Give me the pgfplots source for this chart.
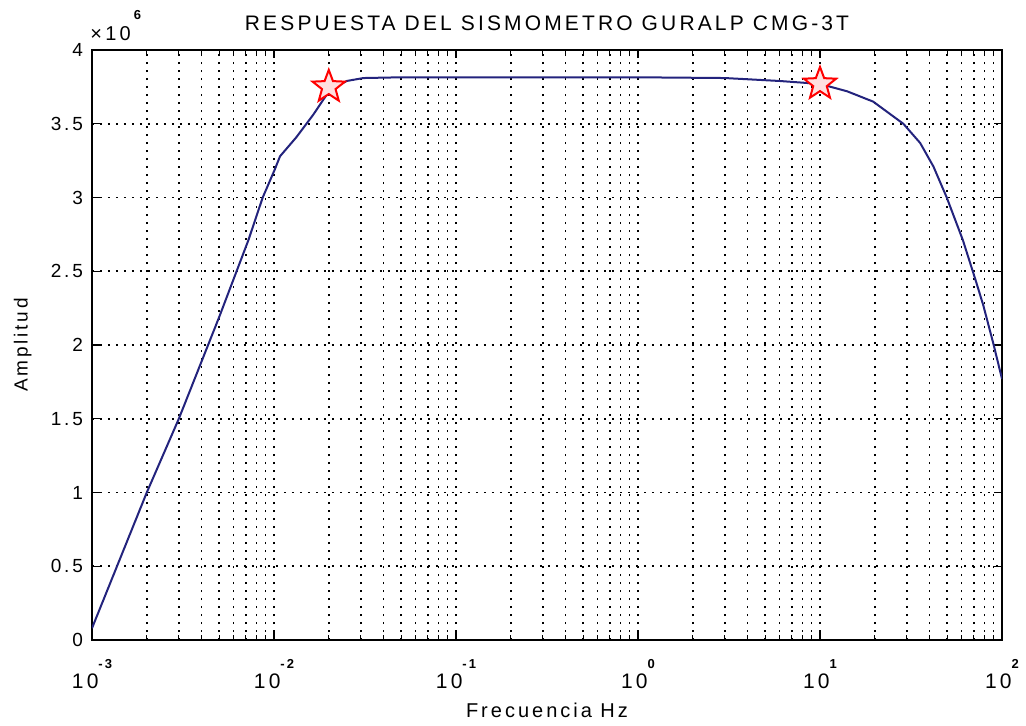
\documentclass[border=0pt]{standalone}
\usepackage{fontspec}
\setmainfont{Liberation Sans}
\newfontfamily\mfont[LetterSpace=15]{Liberation Sans}
\usepackage{pgfplots}
\pgfplotsset{compat=1.18}

% estrella de cinco puntas (como el marcador 'p' de MATLAB)
\pgfdeclareplotmark{pentagram}{%
  \pgfpathmoveto{\pgfpointpolar{90}{\pgfplotmarksize}}%
  \pgfpathlineto{\pgfpointpolar{126}{0.42\pgfplotmarksize}}%
  \pgfpathlineto{\pgfpointpolar{162}{\pgfplotmarksize}}%
  \pgfpathlineto{\pgfpointpolar{198}{0.42\pgfplotmarksize}}%
  \pgfpathlineto{\pgfpointpolar{234}{\pgfplotmarksize}}%
  \pgfpathlineto{\pgfpointpolar{270}{0.42\pgfplotmarksize}}%
  \pgfpathlineto{\pgfpointpolar{306}{\pgfplotmarksize}}%
  \pgfpathlineto{\pgfpointpolar{342}{0.42\pgfplotmarksize}}%
  \pgfpathlineto{\pgfpointpolar{18}{\pgfplotmarksize}}%
  \pgfpathlineto{\pgfpointpolar{54}{0.42\pgfplotmarksize}}%
  \pgfpathclose
  \pgfusepathqfillstroke
}

\definecolor{linea}{RGB}{35,35,125}
\newcommand{\dexp}[1]{10\raisebox{0.95em}{\fontsize{6.5}{7}\selectfont\bfseries #1}}

\begin{document}
\begin{tikzpicture}
\begin{axis}[
    name=ax,
    at={(0,0)}, anchor=south west,
    scale only axis,
    width=455pt, height=295pt,
    xmode=log,
    xmin=1e-3, xmax=1e2,
    ymin=0, ymax=4,
    xtick={1e-3,1e-2,1e-1,1,10,100},
    xticklabels={\dexp{-3},\dexp{-2},\dexp{-1},\dexp{0},\dexp{1},\dexp{2}},
    minor xtick={2e-3,3e-3,4e-3,5e-3,6e-3,7e-3,8e-3,9e-3,
                 2e-2,3e-2,4e-2,5e-2,6e-2,7e-2,8e-2,9e-2,
                 0.2,0.3,0.4,0.5,0.6,0.7,0.8,0.9,
                 2,3,4,5,6,7,8,9,
                 20,30,40,50,60,70,80,90},
    ytick={0,0.5,1,1.5,2,2.5,3,3.5,4},
    yticklabels={0,0.5,1,1.5,2,2.5,3,3.5,4},
    xmajorgrids, xminorgrids, ymajorgrids,
    grid style={black, line width=0.8pt, dash pattern=on 0.8pt off 3.2pt},
    tick align=inside,
    major tick length=4pt, minor tick length=2.5pt,
    tick style={black, line width=0.6pt},
    axis line style={black, line width=0.8pt},
    ticklabel style={font=\mfont\fontsize{9.5}{11}\selectfont},
    xticklabel style={font=\mfont\fontsize{10.5}{12}\selectfont, anchor=base, yshift=-24pt},
    yticklabel style={xshift=-1pt},
    title={RESPUESTA DEL SISMOMETRO GURALP CMG-3T},
    title style={font=\mfont\fontsize{10.5}{12}\selectfont, at={(0.5,1)}, anchor=base, yshift=4pt},
    xlabel={Frecuencia Hz},
    xlabel style={font=\mfont\fontsize{10}{12}\selectfont, at={(0.5,0)}, anchor=base, yshift=-38.5pt},
    ylabel={Amplitud},
    ylabel style={font=\mfont\fontsize{9.5}{11}\selectfont, at={(-0.076,0.5)}, anchor=center},
]
\addplot[linea, line width=1pt] coordinates {
    (0.001, 0.08)
    (0.002, 1.00)
    (0.003, 1.50)
    (0.005, 2.19)
    (0.00723, 2.71)
    (0.00867, 3.00)
    (0.0101, 3.19)
    (0.0108, 3.28)
    (0.0133, 3.41)
    (0.0164, 3.56)
    (0.0203, 3.73)
    (0.0251, 3.79)
    (0.031, 3.81)
    (0.05, 3.815)
    (0.1, 3.815)
    (0.3, 3.815)
    (1, 3.815)
    (3, 3.81)
    (6, 3.79)
    (10, 3.77)
    (14.1, 3.72)
    (19.6, 3.65)
    (28.7, 3.50)
    (35.5, 3.37)
    (42, 3.21)
    (49.7, 3.00)
    (61, 2.71)
    (72, 2.43)
    (78.9, 2.27)
    (89.6, 2.01)
    (100, 1.77)
};
\addplot[only marks, mark=pentagram, mark size=8.5pt, draw=red, fill=white!88!red, line width=1pt] coordinates {
    (0.02, 3.75)
    (10, 3.77)
};
\end{axis}
\node[anchor=base west, inner sep=0pt, font=\mfont\fontsize{10}{12}\selectfont] at (ax.north west) [yshift=5pt, xshift=-1pt] {×\,10\,\raisebox{1.05em}{\fontsize{6.5}{7}\selectfont\bfseries 6}};
\pgfresetboundingbox
\path (ax.south west) ++(-46pt,-42.5pt) rectangle ++(513pt,362.5pt);
\end{tikzpicture}
\end{document}
